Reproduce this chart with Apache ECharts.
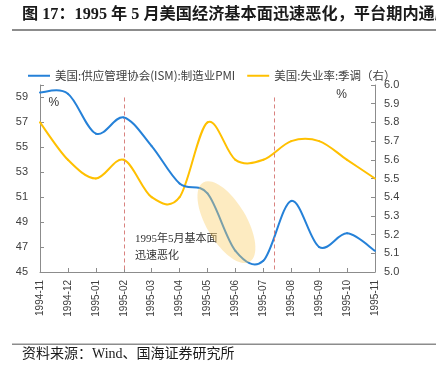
<!DOCTYPE html>
<html><head><meta charset="utf-8">
<script src="https://cdn.jsdelivr.net/npm/echarts@6/dist/echarts.min.js"></script>
<style>html,body{margin:0;padding:0;background:#fff}#c{width:436px;height:381px}</style>
</head><body><div id="c"></div>
<script>
var categories = ['1994-11','1994-12','1995-01','1995-02','1995-03','1995-04','1995-05','1995-06','1995-07','1995-08','1995-09','1995-10','1995-11'];
var ismValues = [59.4, 59.3, 56.1, 57.4, 55.1, 52.1, 51.3, 46.7, 45.9, 50.7, 47.0, 48.1, 46.7];
var unempValues = [5.8, 5.6, 5.5, 5.6, 5.4, 5.4, 5.8, 5.6, 5.6, 5.7, 5.7, 5.6, 5.5];
var ismName = '美国:供应管理协会(ISM):制造业PMI';
var unempName = '美国:失业率:季调（右）';
var markLineIdx = [3, 8.4];
var titleText = '图 17：1995 年 5 月美国经济基本面迅速恶化，平台期内通胀回落';
var sourceText = '资料来源：Wind、国海证券研究所';
var noteLines = ['1995年5月基本面', '迅速恶化'];

var chart = echarts.init(document.getElementById('c'), null, {renderer: 'canvas'});
var axisColor = '#8c8c8c';
var labelColor = '#404040';

// Catmull-Rom style smoothing (like spreadsheet "smoothed line") drawn per segment
function smoothRenderer(values, color) {
  return function (params, api) {
    var i = params.dataIndex;
    var n = values.length;
    if (i >= n - 1) return null;
    var p0 = api.coord([Math.max(i - 1, 0), values[Math.max(i - 1, 0)]]);
    var p1 = api.coord([i, values[i]]);
    var p2 = api.coord([i + 1, values[i + 1]]);
    var p3 = api.coord([Math.min(i + 2, n - 1), values[Math.min(i + 2, n - 1)]]);
    return {
      type: 'bezierCurve',
      shape: {
        x1: p1[0], y1: p1[1], x2: p2[0], y2: p2[1],
        cpx1: p1[0] + (p2[0] - p0[0]) / 6, cpy1: p1[1] + (p2[1] - p0[1]) / 6,
        cpx2: p2[0] - (p3[0] - p1[0]) / 6, cpy2: p2[1] - (p3[1] - p1[1]) / 6
      },
      style: {stroke: color, lineWidth: 2, fill: null, lineCap: 'round'}
    };
  };
}

var ismColor = '#2581D8', unempColor = '#FFC000';
var option = {
  animation: false,
  backgroundColor: '#fff',
  grid: {left: 40, right: 61, top: 85, bottom: 109},
  legend: {
    left: 28, top: 70, padding: 0, itemWidth: 22, itemHeight: 2, itemGap: 12,
    textStyle: {fontSize: 11.5, color: labelColor, fontFamily: 'Noto Sans CJK SC'},
    data: [{name: ismName, icon: 'rect'}, {name: unempName, icon: 'rect'}]
  },
  xAxis: [{
    type: 'category', data: categories, boundaryGap: false,
    axisLine: {lineStyle: {color: axisColor}},
    axisTick: {inside: true, length: 4, lineStyle: {color: axisColor}},
    axisLabel: {rotate: 90, interval: 0, fontSize: 10, color: labelColor, margin: 8, fontFamily: 'Liberation Sans'},
    splitLine: {show: false}
  }, {
    type: 'value', min: 0, max: categories.length - 1, show: false
  }],
  yAxis: [{
    type: 'value', min: 45, max: 60, interval: 2,
    axisLine: {show: true, lineStyle: {color: axisColor}},
    axisTick: {show: true, inside: true, length: 4, lineStyle: {color: axisColor}},
    axisLabel: {fontSize: 11, color: labelColor, margin: 12, fontFamily: 'Liberation Sans',
      formatter: function (v) { return v === 60 ? '' : String(v); }},
    splitLine: {show: false}
  }, {
    type: 'value', min: 5.0, max: 6.0, interval: 0.1,
    axisLine: {show: true, lineStyle: {color: axisColor}},
    axisTick: {show: true, inside: true, length: 4, lineStyle: {color: axisColor}},
    axisLabel: {fontSize: 11, color: labelColor, margin: 9, fontFamily: 'Liberation Sans',
      formatter: function (v) { return v.toFixed(1); }},
    splitLine: {show: false}
  }],
  series: [{
    name: ismName, type: 'custom', xAxisIndex: 0, yAxisIndex: 0,
    data: ismValues.map(function (v, i) { return [i, v]; }),
    encode: {x: 0, y: 1},
    renderItem: smoothRenderer(ismValues, ismColor),
    itemStyle: {color: ismColor}, z: 3
  }, {
    name: unempName, type: 'custom', xAxisIndex: 0, yAxisIndex: 1,
    data: unempValues.map(function (v, i) { return [i, v]; }),
    encode: {x: 0, y: 1},
    renderItem: smoothRenderer(unempValues, unempColor),
    itemStyle: {color: unempColor}, z: 2
  }, {
    name: 'marks', type: 'line', xAxisIndex: 1, yAxisIndex: 0, data: [], silent: true,
    markLine: {
      silent: true, symbol: ['none', 'none'], label: {show: false},
      lineStyle: {color: '#D9827F', type: [4, 3], width: 1},
      data: markLineIdx.map(function (x) { return [{coord: [x, 59]}, {coord: [x, 45]}]; })
    }
  }]
};
chart.setOption(option);

var c = chart.convertToPixel({xAxisIndex: 1, yAxisIndex: 0}, [6.68, 49.0]);
var tp = chart.convertToPixel({xAxisIndex: 1, yAxisIndex: 0}, [3.4, 48.3]);
var pl = chart.convertToPixel({xAxisIndex: 1, yAxisIndex: 0}, [0.5, 58.55]);
var pr = chart.convertToPixel({xAxisIndex: 1, yAxisIndex: 1}, [10.8, 5.95]);
chart.setOption({
  graphic: [
    {type: 'text', left: 22, top: 7, style: {text: titleText, font: 'bold 16.2px "Liberation Serif", "Noto Sans CJK SC"', fill: '#1a1a1a'}},
    {type: 'rect', shape: {x: 12, y: 29, width: 424, height: 2}, style: {fill: '#8c8c8c'}},
    {type: 'rect', shape: {x: 12, y: 343.5, width: 424, height: 1.5}, style: {fill: '#8c8c8c'}},
    {type: 'text', left: 22, top: 347, style: {text: sourceText, font: '14px "Liberation Serif", "Noto Sans CJK SC"', fill: '#1a1a1a'}},
    {type: 'text', x: pl[0], y: pl[1], style: {text: '%', font: '12px "Liberation Sans"', fill: '#333', align: 'center', verticalAlign: 'middle'}},
    {type: 'text', x: pr[0], y: pr[1], style: {text: '%', font: '12px "Liberation Sans"', fill: '#333', align: 'center', verticalAlign: 'middle'}},
    {type: 'text', x: tp[0], y: tp[1], style: {text: noteLines.join('\n'), font: '11px "Liberation Serif", "Noto Sans CJK SC"', fill: '#333', lineHeight: 17}},
    {type: 'ellipse', x: c[0], y: c[1], rotation: 0.53, shape: {cx: 0, cy: 0, rx: 20, ry: 46}, style: {fill: 'rgba(250,205,100,0.4)'}, z: 100}
  ]
});
</script></body></html>
